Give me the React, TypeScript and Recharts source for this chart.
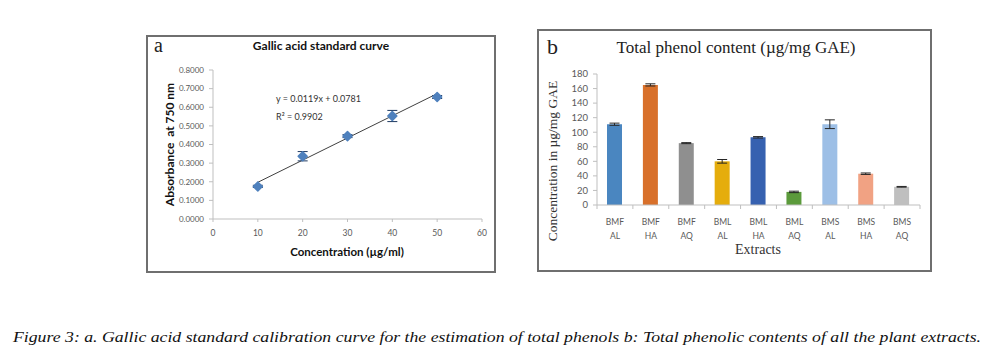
import {
  ScatterChart,
  Scatter,
  BarChart,
  Bar,
  XAxis,
  YAxis,
  ErrorBar,
  ReferenceLine,
  Cell,
} from 'recharts';

// panel a: gallic acid calibration
const gallicConc = [10, 20, 30, 40, 50];
const gallicAbs = [0.175, 0.337, 0.445, 0.553, 0.655];
const gallicErr = [0.006, 0.025, 0.008, 0.03, 0.008];
const trendX = [10, 50];
const trendY = [0.197, 0.673];
const concTicks = [0, 10, 20, 30, 40, 50, 60];
const absTicks = [0, 0.1, 0.2, 0.3, 0.4, 0.5, 0.6, 0.7, 0.8];

// panel b: total phenol content
const extractTop = ['BMF', 'BMF', 'BMF', 'BML', 'BML', 'BML', 'BMS', 'BMS', 'BMS'];
const extractBottom = ['AL', 'HA', 'AQ', 'AL', 'HA', 'AQ', 'AL', 'HA', 'AQ'];
const phenolValues = [111, 165, 85, 60, 93, 18, 111, 43, 25];
const phenolErr = [1.5, 1.5, 0.7, 2.5, 1, 1, 6, 1, 0.5];
const phenolTicks = [0, 20, 40, 60, 80, 100, 120, 140, 160, 180];

const barColors = ['#4a86c0', '#d8702a', '#8f8f8f', '#e5ad0c', '#3661b0', '#5b9a3b', '#9dbfe6', '#f1a283', '#bfbfbf'];

const gallicData = gallicConc.map((x, i) => ({ x, y: gallicAbs[i], err: gallicErr[i] }));
const phenolData = phenolValues.map((v, i) => ({
  name: `${extractTop[i]} ${extractBottom[i]}`,
  value: v,
  err: phenolErr[i],
}));

const sans = 'Lato, "Liberation Sans", sans-serif';
const serif = '"Liberation Serif", "DejaVu Serif", serif';
const band = 323 / 9;

const Diamond = (props: { cx?: number; cy?: number }) => {
  const { cx = 0, cy = 0 } = props;
  const r = 4.5;
  return (
    <path
      d={`M${cx},${cy - r}L${cx + r},${cy}L${cx},${cy + r}L${cx - r},${cy}Z`}
      fill="#4f81bd"
      stroke="#4f81bd"
      strokeLinejoin="round"
      strokeWidth={1.5}
    />
  );
};

const ExtractTick = (props: { x?: number; y?: number; index?: number; payload?: { index?: number } }) => {
  const { x = 0, y = 0 } = props;
  const i = props.payload?.index ?? props.index ?? 0;
  const left = x - band / 2;
  return (
    <g>
      <line x1={left} y1={y} x2={left} y2={y + 4} stroke="#bfbfbf" />
      {i === extractTop.length - 1 && (
        <line x1={x + band / 2} y1={y} x2={x + band / 2} y2={y + 4} stroke="#bfbfbf" />
      )}
      <text x={x} y={y + 20} textAnchor="middle" fontSize={8.5} fill="#595959" fontFamily={sans}>
        {extractTop[i]}
      </text>
      <text x={x} y={y + 34} textAnchor="middle" fontSize={8.5} fill="#595959" fontFamily={sans}>
        {extractBottom[i]}
      </text>
    </g>
  );
};

const abs = (left: number, top: number): React.CSSProperties => ({ position: 'absolute', left, top });

export default function App() {
  return (
    <div style={{ position: 'absolute', left: 0, top: 0, width: 985, height: 350, background: '#fff', overflow: 'hidden' }}>
      {/* panel a */}
      <div style={{ ...abs(146, 35), width: 350, height: 238, border: '2px solid #6f6f6f', boxSizing: 'border-box' }} />
      <div style={abs(146, 35)}>
        <ScatterChart width={350} height={238} margin={{ top: 35, right: 14, bottom: 24, left: 22 }}>
          <XAxis
            type="number"
            dataKey="x"
            domain={[0, 60]}
            ticks={concTicks}
            interval={0}
            tick={{ fontSize: 8.5, fill: '#595959', fontFamily: sans }}
            axisLine={{ stroke: '#bfbfbf' }}
            tickLine={{ stroke: '#bfbfbf' }}
            tickSize={3}
            tickMargin={8}
            height={30}
          />
          <YAxis
            type="number"
            dataKey="y"
            domain={[0, 0.8]}
            ticks={absTicks}
            interval={0}
            tickFormatter={(v: number) => v.toFixed(4)}
            tick={{ fontSize: 8, fill: '#595959', fontFamily: sans }}
            axisLine={{ stroke: '#bfbfbf' }}
            tickLine={{ stroke: '#bfbfbf' }}
            tickSize={4}
            tickMargin={5}
            width={45}
          />
          <ReferenceLine
            segment={[
              { x: trendX[0], y: trendY[0] },
              { x: trendX[1], y: trendY[1] },
            ]}
            stroke="#404040"
            strokeWidth={1}
          />
          <Scatter data={gallicData} shape={<Diamond />} isAnimationActive={false}>
            <ErrorBar dataKey="err" direction="y" width={5} stroke="#1f3a60" strokeWidth={1} />
          </Scatter>
        </ScatterChart>
      </div>
      <div style={{ ...abs(154, 34), fontFamily: serif, fontSize: 20, color: '#222' }}>a</div>
      <div style={{ ...abs(221, 38), width: 200, textAlign: 'center', fontFamily: sans, fontWeight: 700, fontSize: 12, color: '#111' }}>
        Gallic acid standard curve
      </div>
      <div style={{ ...abs(247, 245), width: 200, textAlign: 'center', fontFamily: sans, fontWeight: 700, fontSize: 11.5, color: '#111' }}>
        Concentration (µg/ml)
      </div>
      <div
        style={{
          ...abs(69, 137),
          width: 200,
          textAlign: 'center',
          fontFamily: sans,
          fontWeight: 700,
          fontSize: 12,
          color: '#111',
          transform: 'rotate(-90deg)',
        }}
      >
        Absorbance&nbsp; at 750 nm
      </div>
      <div style={{ ...abs(276, 93), fontFamily: sans, fontSize: 9, color: '#333' }}>y = 0.0119x + 0.0781</div>
      <div style={{ ...abs(276, 111), fontFamily: sans, fontSize: 9, color: '#333' }}>
        R² = 0.9902
      </div>

      {/* panel b */}
      <div style={{ ...abs(537, 29), width: 395, height: 243, border: '2px solid #6f6f6f', boxSizing: 'border-box' }} />
      <div style={abs(537, 29)}>
        <BarChart width={395} height={243} data={phenolData} margin={{ top: 45, right: 12, bottom: 27, left: 20 }} barSize={15}>
          <XAxis
            dataKey="name"
            interval={0}
            tick={<ExtractTick />}
            tickLine={false}
            tickSize={0}
            tickMargin={0}
            axisLine={{ stroke: '#bfbfbf' }}
            height={40}
          />
          <YAxis
            domain={[0, 180]}
            ticks={phenolTicks}
            interval={0}
            tick={{ fontSize: 9.5, fill: '#595959', fontFamily: sans }}
            axisLine={{ stroke: '#bfbfbf' }}
            tickLine={{ stroke: '#bfbfbf' }}
            tickSize={4}
            tickMargin={5}
            width={40}
          />
          <Bar dataKey="value" isAnimationActive={false}>
            {phenolData.map((_, i) => (
              <Cell key={`cell-${i}`} fill={barColors[i]} />
            ))}
            <ErrorBar dataKey="err" direction="y" width={5} stroke="#262626" strokeWidth={1} />
          </Bar>
        </BarChart>
      </div>
      <div style={{ ...abs(547, 34), fontFamily: serif, fontSize: 22, color: '#222' }}>b</div>
      <div style={{ ...abs(586, 38), width: 300, textAlign: 'center', fontFamily: serif, fontSize: 17, color: '#222' }}>
        Total phenol content (µg/mg GAE)
      </div>
      <div
        style={{
          ...abs(453, 153),
          width: 200,
          textAlign: 'center',
          fontFamily: serif,
          fontSize: 13.5,
          color: '#333',
          transform: 'rotate(-90deg)',
        }}
      >
        Concentration in µg/mg GAE
      </div>
      <div style={{ ...abs(708, 242), width: 100, textAlign: 'center', fontFamily: serif, fontSize: 14, color: '#333' }}>
        Extracts
      </div>

      {/* caption */}
      <svg style={abs(0, 322)} width={985} height={28}>
        <text
          x={13}
          y={20}
          textLength={968}
          lengthAdjust="spacingAndGlyphs"
          fontFamily={serif}
          fontStyle="italic"
          fontSize={15}
          fill="#111"
        >
          Figure 3: a. Gallic acid standard calibration curve for the estimation of total phenols b: Total phenolic contents of all the plant extracts.
        </text>
      </svg>
    </div>
  );
}
